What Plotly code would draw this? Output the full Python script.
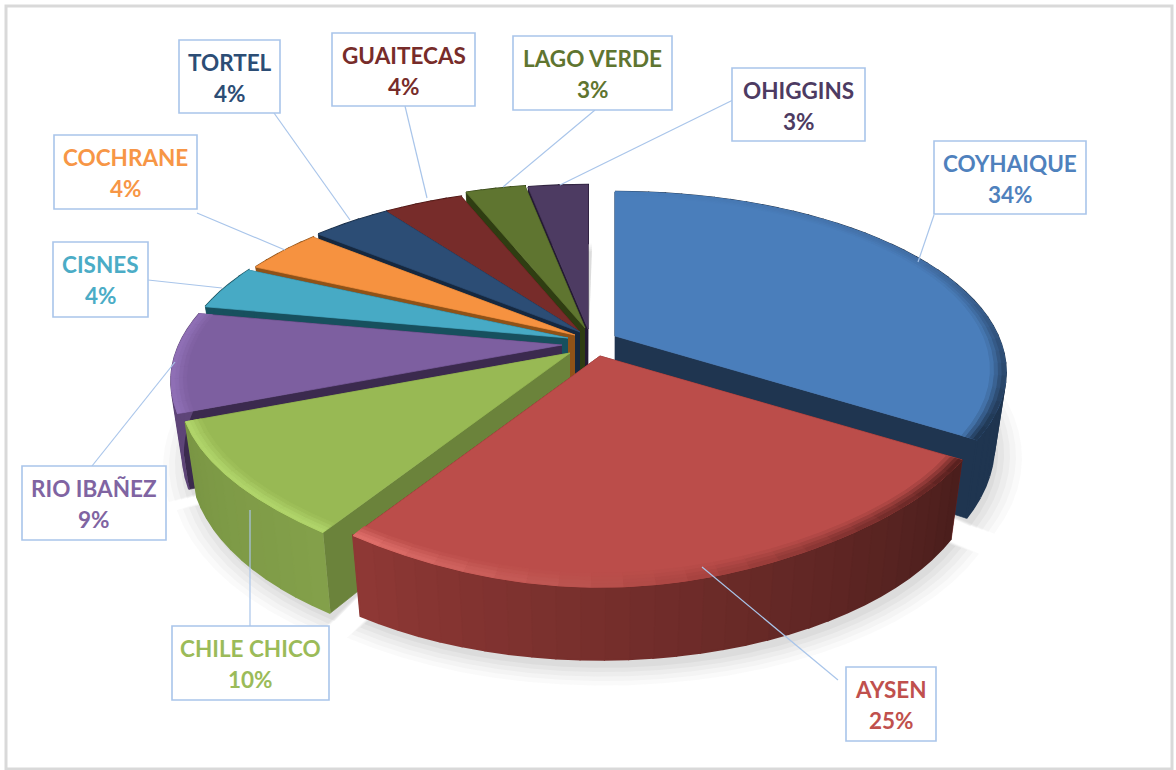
import math
import plotly.graph_objects as go

# ---- data ----
categories = ["COYHAIQUE", "AYSEN", "CHILE CHICO", "RIO IBAÑEZ", "CISNES",
              "COCHRANE", "TORTEL", "GUAITECAS", "LAGO VERDE", "OHIGGINS"]
values = [34, 25, 10, 9, 4, 4, 4, 4, 3, 3]

# ---- style ----
top_colors = ["#4A7EBB", "#BB4D4A", "#98B954", "#7D5FA0", "#47AAC5",
              "#F69240", "#2C4D75", "#772C2A", "#5F7530", "#4D3B62"]
text_colors = ["#4F81BD", "#C0504D", "#9BBB59", "#8064A2", "#4BACC6",
               "#F79646", "#2C4D75", "#772C2A", "#5F7530", "#4D3B62"]
face_colors = ["#1F3550", "#6B1F1E", "#6B833B", "#3B2A4E", "#17505E",
               "#8F5218", "#16283F", "#45110F", "#2F3D12", "#241A33"]
wall_start = ["#1F3550", "#4A1E1C", "#83A04A", "#5E4578", "#17505E",
              "#8F5218", "#16283F", "#45110F", "#2F3D12", "#241A33"]
wall_end = ["#1F3550", "#8F3835", "#7A9644", "#5E4578", "#17505E",
            "#8F5218", "#16283F", "#45110F", "#2F3D12", "#241A33"]
rim_stops = {0: ["#4A7EBB", "#436FA6", "#1F3550"],
             1: ["#551F1E", "#A84340", "#E0706B"],
             2: ["#B0D46A", "#B0D46A", "#B0D46A"],
             3: ["#8F6FB5", "#8F6FB5", "#8F6FB5"]}

# explosion: where each slice's tip lands on the page
tip_x = [615, 600, 570, 562, 568, 575, 580, 580, 585, 588]
tip_y = [336, 356, 353, 345, 338, 335, 332, 332, 328, 329]
draw_order = [9, 8, 7, 6, 5, 4, 3, 0, 2, 1]

A, B, K, H = 383, 173, 0.2, 70      # disc projection: half-width, half-depth, perspective, thickness
BULGE = 15                          # extra reach of the front rim

# label box: left, top, right, bottom ; leader: from, to
boxes = {0: (934, 141, 1086, 214), 1: (846, 667, 936, 741), 2: (172, 626, 329, 700),
         3: (22, 466, 166, 540), 4: (53, 242, 148, 317), 5: (54, 135, 197, 209),
         6: (179, 40, 280, 113), 7: (332, 33, 475, 106), 8: (513, 36, 672, 110),
         9: (732, 68, 865, 141)}
leaders = {0: (934, 215, 918, 262), 1: (838, 680, 702, 567), 2: (250, 626, 250, 510),
           3: (92, 466, 175, 362), 4: (148, 280, 222, 288), 5: (197, 213, 285, 250),
           6: (274, 113, 350, 220), 7: (405, 106, 427, 198), 8: (595, 110, 503, 187),
           9: (733, 100, 560, 185)}


def hex2rgb(h):
    return tuple(int(h[i:i + 2], 16) for i in (1, 3, 5))


def mix(c1, c2, t):
    a, b = hex2rgb(c1), hex2rgb(c2)
    return "#%02X%02X%02X" % tuple(round(a[i] + (b[i] - a[i]) * t) for i in range(3))


def pt(i, deg, r=1.0, low=False):
    th = math.radians(deg)
    u, v = r * math.sin(th), -r * math.cos(th)
    s = 1 / (1 - K * v)
    dx, dy = A * u * s, B * v * s
    bulge = BULGE * max(v, 0) ** 8
    if low:
        dx *= 0.97
        dy += H * s
    else:
        dy += bulge
    return tip_x[i] + dx, tip_y[i] + dy


def arc(a0, a1, step):
    n = max(1, math.ceil((a1 - a0) / step))
    return [a0 + (a1 - a0) * j / n for j in range(n + 1)]


fig = go.Figure()


def poly(pts, color, lw=0.7):
    fig.add_trace(go.Scatter(x=[p[0] for p in pts], y=[p[1] for p in pts], mode="lines",
                             fill="toself", fillcolor=color, line=dict(color=color, width=lw),
                             hoverinfo="skip", showlegend=False))


total = sum(values)
starts, ends = [], []
acc = 0
for v in values:
    starts.append(acc / total * 360)
    acc += v
    ends.append(acc / total * 360)

# soft ground shadow
for i in range(len(values)):
    angles = arc(starts[i], ends[i], 4)
    for grow, alpha in [(1.06, 0.03), (1.045, 0.035), (1.03, 0.045), (1.015, 0.05), (1.0, 0.06)]:
        rim = [pt(i, a, grow, True) for a in angles]
        tip = (tip_x[i], tip_y[i] + H - 40)
        pts = [tip] + [(x + 4, y + 8) for x, y in rim] + [tip]
        fig.add_trace(go.Scatter(x=[p[0] for p in pts], y=[p[1] for p in pts], mode="lines",
                                 fill="toself", fillcolor=f"rgba(90,90,90,{alpha})",
                                 line=dict(width=0), hoverinfo="skip", showlegend=False))

for i in draw_order:
    a0, a1 = starts[i], ends[i]
    tip_low = (tip_x[i], tip_y[i] + H)
    tip = (tip_x[i], tip_y[i])
    # cut faces
    poly([tip, pt(i, a1), pt(i, a1, 1, True), tip_low], face_colors[i])
    poly([tip, pt(i, a0), pt(i, a0, 1, True), tip_low], face_colors[i])
    # outer wall, shaded along the arc
    angles = arc(a0, a1, 3)
    for j in range(len(angles) - 1):
        t = (j + 0.5) / (len(angles) - 1)
        poly([pt(i, angles[j]), pt(i, angles[j + 1]), pt(i, angles[j + 1], 1, True),
              pt(i, angles[j], 1, True)], mix(wall_start[i], wall_end[i], t), 2)
    # top surface
    poly([tip] + [pt(i, a) for a in arc(a0, a1, 2)] + [tip], top_colors[i])
    # bevelled rim
    if i in rim_stops:
        stops = rim_stops[i]
        bands = [(0.962, 0.972, 0.2), (0.972, 0.982, 0.5), (0.982, 0.991, 0.8), (0.991, 1.0, 1.0)]
        angles = arc(a0, a1, 4)
        for j in range(len(angles) - 1):
            t = (j + 0.5) / (len(angles) - 1)
            rc = mix(stops[0], stops[1], t * 2) if t < 0.5 else mix(stops[1], stops[2], t * 2 - 1)
            for r0, r1, w in bands:
                poly([pt(i, angles[j], r0), pt(i, angles[j + 1], r0),
                      pt(i, angles[j + 1], r1), pt(i, angles[j], r1)],
                     mix(top_colors[i], rc, w), 1)

LINE = "#A9C5EA"
shapes = [dict(type="rect", xref="x", yref="y", x0=6, y0=6, x1=1172, y1=769,
               line=dict(color="#D9D9D9", width=3), fillcolor="rgba(0,0,0,0)")]
annotations = []
FONT = "Lato"
for i, name in enumerate(categories):
    x0, y0, x1, y1 = boxes[i]
    lx0, ly0, lx1, ly1 = leaders[i]
    fig.add_trace(go.Scatter(x=[lx0, lx1], y=[ly0, ly1], mode="lines",
                             line=dict(color=LINE, width=1.2), hoverinfo="skip", showlegend=False))
    shapes.append(dict(type="rect", xref="x", yref="y", x0=x0, y0=y0, x1=x1, y1=y1,
                       line=dict(color=LINE, width=1.6), fillcolor="white", layer="above"))
    cx = (x0 + x1) / 2
    pct = f"{round(values[i] / total * 100)}%"
    for text, yy in ((name, y0 + 22), (pct, y0 + 53)):
        annotations.append(dict(x=cx, y=yy, xref="x", yref="y", text=f"<b>{text}</b>", showarrow=False,
                                xanchor="center", yanchor="middle",
                                font=dict(family=FONT, size=22.5, color=text_colors[i])))

fig.update_layout(width=1176, height=770, margin=dict(l=0, r=0, t=0, b=0),
                  paper_bgcolor="white", plot_bgcolor="white", showlegend=False,
                  xaxis=dict(range=[0, 1176], visible=False, fixedrange=True),
                  yaxis=dict(range=[770, 0], visible=False, fixedrange=True),
                  shapes=shapes, annotations=annotations)
fig.write_html("out.html", config={"displayModeBar": False},
               post_script="document.body.style.margin='0';document.body.style.overflow='hidden';")
